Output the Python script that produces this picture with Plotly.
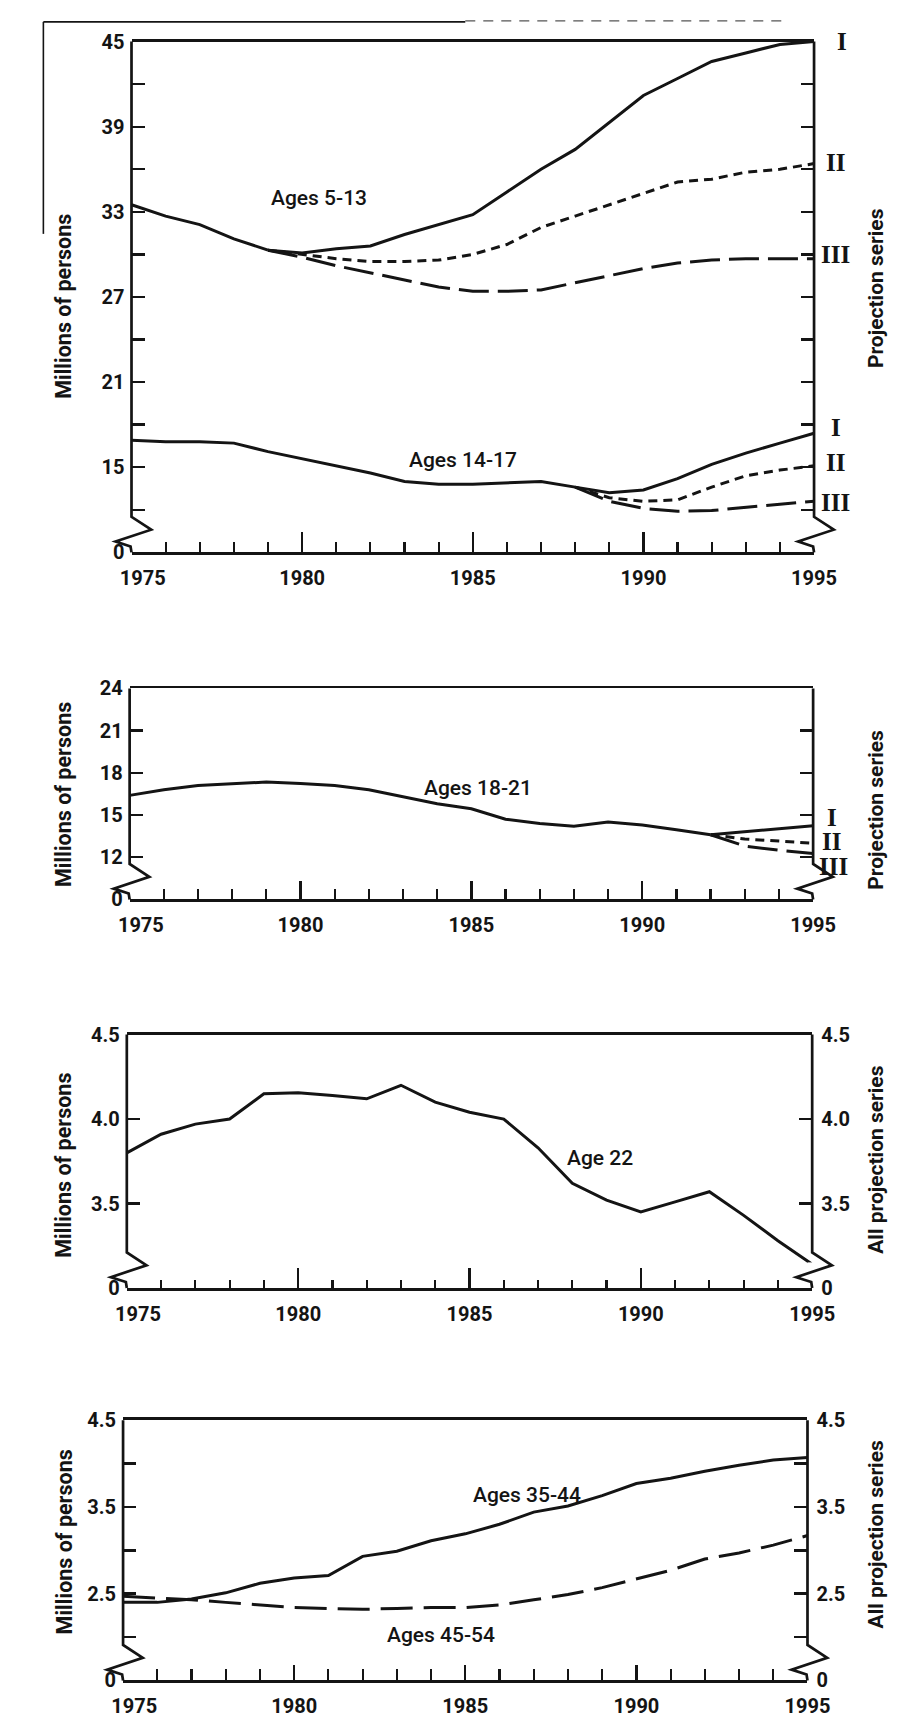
import plotly.graph_objects as go

W, H = 913, 1726
INK = "#141414"
TICKFONT = dict(family="Roboto", size=20, color=INK, weight=700)
LTITLEFONT = dict(family="Roboto", size=21.5, color=INK, weight=700)
RTITLEFONT = dict(family="Roboto", size=21, color=INK, weight=700)
LABELFONT = dict(family="Roboto", size=21, color=INK, weight=500)
ROMANFONT = dict(family="Liberation Serif", size=25, color=INK, weight=700)

# ---------------- data (millions of persons) ----------------
year_ticks = [1975, 1980, 1985, 1990, 1995]
year_labels = ["\u2007\u20071975", "1980", "1985", "1990", "1995"]

# Panel 1 : Ages 5-13
a513_hist_x = [1975, 1976, 1977, 1978, 1979]
a513_hist = [33.5, 32.7, 32.1, 31.1, 30.3]
a513_proj_x = list(range(1980, 1996))
a513_I = [30.1, 30.4, 30.6, 31.4, 32.1, 32.8, 34.4, 36.0, 37.4, 39.3, 41.2, 42.4, 43.6, 44.2, 44.8, 45.0]
a513_II = [30.0, 29.7, 29.5, 29.5, 29.6, 30.0, 30.7, 31.9, 32.7, 33.5, 34.3, 35.1, 35.3, 35.8, 36.0, 36.4]
a513_III = [29.8, 29.2, 28.7, 28.2, 27.7, 27.4, 27.4, 27.5, 28.0, 28.5, 29.0, 29.4, 29.6, 29.7, 29.7, 29.7]

# Panel 1 : Ages 14-17
a1417_hist_x = list(range(1975, 1989))
a1417_hist = [16.9, 16.8, 16.8, 16.7, 16.1, 15.6, 15.1, 14.6, 14.0, 13.8, 13.8, 13.9, 14.0, 13.6]
a1417_proj_x = list(range(1989, 1996))
a1417_I = [13.2, 13.4, 14.2, 15.2, 16.0, 16.7, 17.4]
a1417_II = [12.85, 12.6, 12.7, 13.6, 14.4, 14.8, 15.1]
a1417_III = [12.6, 12.1, 11.9, 11.95, 12.2, 12.4, 12.6]

# Panel 2 : Ages 18-21
a1821_hist_x = list(range(1975, 1993))
a1821_hist = [16.4, 16.8, 17.1, 17.2, 17.35, 17.25, 17.1, 16.8, 16.3, 15.8, 15.45, 14.7,
              14.4, 14.2, 14.5, 14.3, 13.95, 13.6]
a1821_proj_x = [1993, 1994, 1995]
a1821_I = [13.8, 14.0, 14.25]
a1821_II = [13.3, 13.15, 13.0]
a1821_III = [12.8, 12.5, 12.27]

# Panel 3 : Age 22
a22_x = list(range(1975, 1996))
a22 = [3.80, 3.91, 3.97, 4.00, 4.15, 4.155, 4.14, 4.12, 4.20, 4.10, 4.04, 4.00, 3.83,
       3.62, 3.52, 3.45, 3.51, 3.57, 3.43, 3.28, 3.14]

# Panel 4 : Ages 35-44 and 45-54
a_mid_x = list(range(1975, 1996))
a3544 = [2.40, 2.40, 2.44, 2.51, 2.62, 2.68, 2.71, 2.93, 2.99, 3.11, 3.19, 3.30, 3.44,
         3.51, 3.63, 3.77, 3.83, 3.91, 3.98, 4.04, 4.07]
a4554 = [2.47, 2.45, 2.43, 2.40, 2.37, 2.34, 2.33, 2.32, 2.33, 2.34, 2.34, 2.37, 2.43,
         2.49, 2.57, 2.67, 2.77, 2.90, 2.97, 3.06, 3.17]

# ---------------- panel geometry (pixels) ----------------
PANELS = [
    dict(box=(104, 832, 30, 548), yrange=(9, 45),
         lticks=[9, 12, 15, 18, 21, 24, 27, 30, 33, 36, 39, 42, 45],
         ltext=["0", "", "15", "", "21", "", "27", "", "33", "", "39", "", "45"],
         rticks=[12, 15, 18, 21, 24, 27, 30, 33, 36, 39, 42], rlabels=False,
         xmajor=20, xminor=10, ltitle_y=299, rtitle="Projection series", rtitle_y=280),
    dict(box=(102, 831, 686, 900), yrange=(9, 24),
         lticks=[9, 12, 15, 18, 21, 24], ltext=["0", "12", "15", "18", "21", "24"],
         rticks=[12, 15, 18, 21], rlabels=False,
         xmajor=18, xminor=10, ltitle_y=794, rtitle="Projection series", rtitle_y=809),
    dict(box=(99, 830, 1037, 1294), yrange=(3.0, 4.5),
         lticks=[3.0, 3.5, 4.0, 4.5], ltext=["0", "3.5", "4.0", "4.5"],
         rticks=[3.0, 3.5, 4.0, 4.5], rlabels=True,
         xmajor=20, xminor=8, ltitle_y=1170, rtitle="All projection series", rtitle_y=1164),
    dict(box=(95, 825, 1428, 1692), yrange=(1.5, 4.5),
         lticks=[1.5, 2.0, 2.5, 3.0, 3.5, 4.0, 4.5], ltext=["0", "", "2.5", "", "3.5", "", "4.5"],
         rticks=[1.5, 2.0, 2.5, 3.0, 3.5, 4.0, 4.5], rlabels=True,
         xmajor=15, xminor=11, ltitle_y=1552, rtitle="All projection series", rtitle_y=1544),
]


def names(k):
    xa = "x" if k == 1 else f"x{k}"
    yl = "y" if k == 1 else f"y{2 * k - 1}"
    yr = f"y{2 * k}"
    return xa, yl, yr


def lay(ref):
    return ref[0] + "axis" + ref[1:]


fig = go.Figure()
layout = {}
shapes = []
annotations = []


def P(x, y):
    return f"{x / W:.5f},{1 - y / H:.5f}"


for i, p in enumerate(PANELS):
    k = i + 1
    xa, yl, yr = names(k)
    xl, xr, yt, yb = p["box"]
    layout[lay(xa)] = dict(
        domain=[xl / W, xr / W], anchor=yl, range=[1975, 1995],
        showline=True, mirror=True, linewidth=2.7, linecolor=INK,
        ticks="inside", tickvals=year_ticks, ticktext=year_labels,
        ticklen=p["xmajor"], tickwidth=2.4, tickcolor=INK,
        minor=dict(ticks="inside", dtick=1, tick0=1975, ticklen=p["xminor"],
                   tickwidth=2.2, tickcolor=INK),
        showgrid=False, zeroline=False, tickfont=TICKFONT, ticklabelstandoff=6,
        fixedrange=True,
    )
    layout[lay(yl)] = dict(
        domain=[1 - yb / H, 1 - yt / H], anchor=xa, range=list(p["yrange"]),
        showline=False, ticks="inside", tickvals=p["lticks"], ticktext=p["ltext"],
        ticklen=13, tickwidth=2.4, tickcolor=INK, showgrid=False, zeroline=False,
        tickfont=TICKFONT, ticklabelstandoff=6, fixedrange=True,
    )
    rax = dict(
        overlaying=yl, side="right", anchor=xa, range=list(p["yrange"]),
        showline=False, ticks="inside", tickvals=p["rticks"],
        ticklen=13, tickwidth=2.4, tickcolor=INK, showgrid=False, zeroline=False,
        tickfont=TICKFONT, ticklabelstandoff=8, fixedrange=True,
        showticklabels=p["rlabels"],
    )
    if p["rlabels"]:
        rax["ticktext"] = p["ltext"]
    layout[lay(yr)] = rax

    # cover the corner major ticks and draw the broken vertical axes
    for ax in (xl, xr):
        shapes.append(dict(type="rect", xref="paper", yref="paper", layer="above",
                           x0=(ax - 5) / W, x1=(ax + 5) / W,
                           y0=1 - (yb - 2) / H, y1=1 - (yb - 26) / H,
                           fillcolor="white", line=dict(width=0)))
    for ax in (xl, xr):
        pts = [(ax, yt), (ax, yb - 36), (ax + 21, yb - 23), (ax - 17, yb - 11),
               (ax - 1, yb - 6), (ax, yb)]
        shapes.append(dict(type="path", xref="paper", yref="paper", layer="above",
                           path="M " + " L ".join(P(*q) for q in pts),
                           line=dict(color=INK, width=2.7)))

    annotations.append(dict(text="Millions of persons", xref="paper", yref="paper",
                            x=32 / W, y=1 - p["ltitle_y"] / H, textangle=-90,
                            showarrow=False, font=LTITLEFONT, xanchor="center", yanchor="middle"))
    annotations.append(dict(text=p["rtitle"], xref="paper", yref="paper",
                            x=898 / W, y=1 - p["rtitle_y"] / H, textangle=-90,
                            showarrow=False, font=RTITLEFONT, xanchor="center", yanchor="middle"))


def add_line(x, y, k, side, dash="solid", width=3.0):
    xa, yl, yr = names(k)
    fig.add_trace(go.Scatter(x=x, y=y, mode="lines", xaxis=xa, yaxis=yl if side == "l" else yr,
                             line=dict(color=INK, width=width, dash=dash),
                             hoverinfo="skip", showlegend=False))


DASH_II = "9px,6px"
DASH_III = "30px,9px"

# Panel 1
add_line(a513_hist_x, a513_hist, 1, "l")
bx, by = [a513_hist_x[-1]], [a513_hist[-1]]
add_line(bx + a513_proj_x, by + a513_I, 1, "r")
add_line(bx + a513_proj_x, by + a513_II, 1, "r", DASH_II)
add_line(bx + a513_proj_x, by + a513_III, 1, "r", DASH_III)
add_line(a1417_hist_x, a1417_hist, 1, "l")
bx, by = [a1417_hist_x[-1]], [a1417_hist[-1]]
add_line(bx + a1417_proj_x, by + a1417_I, 1, "r")
add_line(bx + a1417_proj_x, by + a1417_II, 1, "r", DASH_II)
add_line(bx + a1417_proj_x, by + a1417_III, 1, "r", DASH_III)

# Panel 2
add_line(a1821_hist_x, a1821_hist, 2, "l")
bx, by = [a1821_hist_x[-1]], [a1821_hist[-1]]
add_line(bx + a1821_proj_x, by + a1821_I, 2, "r")
add_line(bx + a1821_proj_x, by + a1821_II, 2, "r", DASH_II)
add_line(bx + a1821_proj_x, by + a1821_III, 2, "r", DASH_III)

# Panel 3
add_line(a22_x, a22, 3, "l")
add_line(a22_x[:1], a22[:1], 3, "r")

# Panel 4
add_line(a_mid_x, a3544, 4, "l")
add_line(a_mid_x, a4554, 4, "r", "32px,11px")


def label(text, x, y, k):
    xa, yl, yr = names(k)
    annotations.append(dict(text=text, x=x, y=y, xref=xa, yref=yl, showarrow=False,
                            font=LABELFONT, xanchor="center", yanchor="middle"))


label("Ages 5-13", 1980.5, 34.0, 1)
label("Ages 14-17", 1984.7, 15.5, 1)
label("Ages 18-21", 1985.2, 16.9, 2)
label("Age 22", 1988.8, 3.77, 3)
label("Ages 35-44", 1986.8, 3.64, 4)
label("Ages 45-54", 1984.3, 2.02, 4)


def roman(text, y, k, x=855):
    xa, yl, yr = names(k)
    annotations.append(dict(text=text, x=x / W, y=y, xref="paper", yref=yr, showarrow=False,
                            font=ROMANFONT, xanchor="center", yanchor="middle"))


roman("I", a513_I[-1], 1, 862)
roman("II", a513_II[-1] + 0.1, 1)
roman("III", a513_III[-1] + 0.3, 1)
roman("I", a1417_I[-1] + 0.4, 1)
roman("II", a1417_II[-1] + 0.2, 1)
roman("III", a1417_III[-1] - 0.05, 1)
roman("I", a1821_I[-1] + 0.55, 2, 851)
roman("II", a1821_II[-1] + 0.1, 2, 851)
roman("III", a1821_III[-1] - 0.95, 2, 853)

# scan border remnants at the top-left of the page
shapes.append(dict(type="line", xref="paper", yref="paper", x0=10 / W, x1=460 / W,
                   y0=1 - 10 / H, y1=1 - 10 / H, line=dict(color=INK, width=1.6)))
shapes.append(dict(type="line", xref="paper", yref="paper", x0=460 / W, x1=800 / W,
                   y0=1 - 9 / H, y1=1 - 9 / H, line=dict(color="#555555", width=1.2, dash="10px,8px")))
shapes.append(dict(type="line", xref="paper", yref="paper", x0=10 / W, x1=10 / W,
                   y0=1 - 10 / H, y1=1 - 225 / H, line=dict(color=INK, width=1.6)))

fig.update_layout(
    width=W, height=H, margin=dict(l=0, r=0, t=0, b=0),
    paper_bgcolor="white", plot_bgcolor="white", showlegend=False,
    shapes=shapes, annotations=annotations, **layout,
)

fig.write_html("out.html", config={"displayModeBar": False, "staticPlot": True},
               post_script="document.body.style.margin='0';")
